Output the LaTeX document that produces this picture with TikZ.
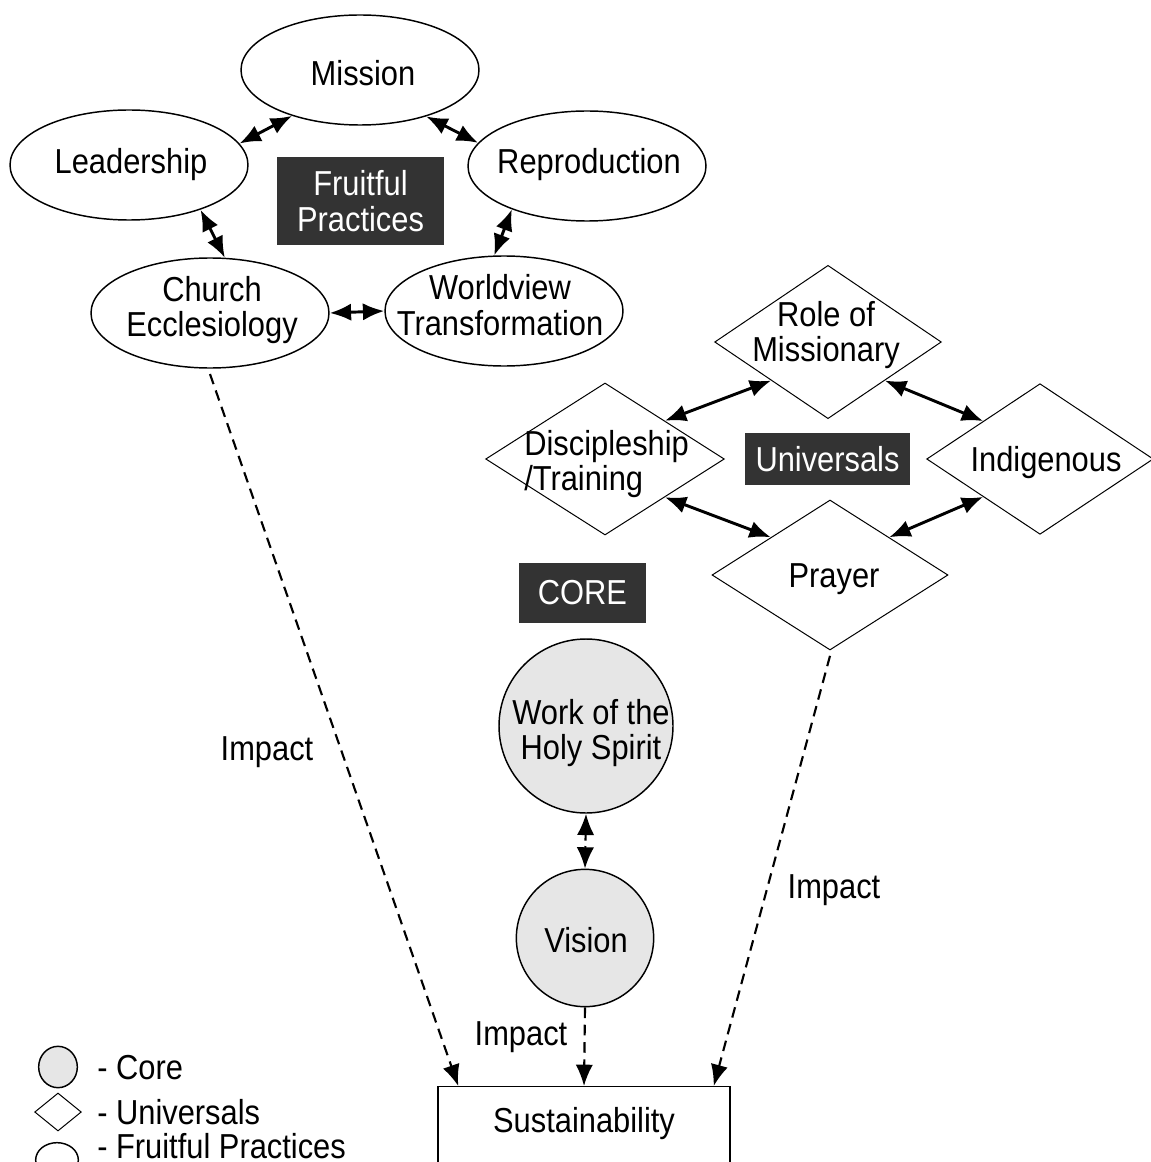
\documentclass[tikz,border=0pt]{standalone}
\usepackage{fontspec}
\setmainfont{Liberation Sans}[FakeStretch=0.89]
\usetikzlibrary{shapes.geometric,arrows.meta,calc}
\definecolor{darkbox}{HTML}{333333}
\definecolor{coregrey}{HTML}{E6E6E6}
\begin{document}
\begin{tikzpicture}[x=0.75pt,y=-0.75pt,
  >={Latex[length=16pt,width=13pt]},
  every node/.style={font=\fontsize{26}{26.5}\selectfont},
  fp/.style={ellipse,draw,line width=1.1pt,minimum width=178.5pt,minimum height=82.5pt,inner sep=0pt},
  uni/.style={diamond,draw,line width=0.75pt,inner sep=0pt},
  core/.style={circle,draw,line width=1.1pt,fill=coregrey,inner sep=0pt},
  tag/.style={fill=darkbox,text=white,align=center,inner sep=0pt},
  lbl/.style={align=center,inner sep=0pt},
  link/.style={<->,line width=2.2pt},
  impact/.style={->,line width=1.6pt,dash pattern=on 8pt off 5pt},
  impact2/.style={<->,line width=1.6pt,dash pattern=on 5pt off 4pt},
]
\useasboundingbox (0,0) rectangle (1151,1162);
\clip (0,0) rectangle (1151,1162);
\fill[white] (0,0) rectangle (1151,1162);

% Fruitful practices
\node[fp] (mission) at (360,70) {};
\node[lbl] (missiont) at (363,73) {Mission};
\node[fp] (lead) at (129,165) {};
\node[lbl] (leadt) at (131,165) {Leadership};
\node[fp] (repro) at (587,166) {};
\node[lbl] (reprot) at (589,165) {Reproduction};
\node[fp] (church) at (210,313) {};
\node[lbl] (churcht) at (212,310) {Church\\Ecclesiology};
\node[fp] (world) at (504,311) {};
\node[lbl] (worldt) at (500,305) {Worldview\\Transformation};
\node[tag,minimum width=125pt,minimum height=66pt] (fpbox) at (360.5,201) {Fruitful\\Practices};

\draw[link] (lead.11) -- (mission.214);
\draw[link] (mission.325) -- (repro.168);
\draw[link] (lead.328) -- (church.75);
\draw[link] (repro.210) -- (world.100);
\draw[link] (church.east) -- (world.west);

% Universals
\node[uni,minimum width=170pt,minimum height=115pt] (role) at (828,342) {};
\node[lbl] (rolet) at (826,335) {Role of\\Missionary};
\node[uni,minimum width=179pt,minimum height=114pt] (disc) at (605,459) {};
\node[lbl,align=left,anchor=west] (disct) at (524,464) {Discipleship\\/Training};
\node[uni,minimum width=170pt,minimum height=113pt] (indig) at (1040,459) {};
\node[lbl] (indigt) at (1046,463) {Indigenous};
\node[uni,minimum width=177pt,minimum height=112.5pt] (prayer) at (830,575) {};
\node[lbl] (prayert) at (834,579) {Prayer};
\node[tag,minimum width=124pt,minimum height=39pt] (unibox) at (827.5,459) {Universals};

\draw[link] (role.south west) -- (disc.north east);
\draw[link] (role.south east) -- (indig.north west);
\draw[link] (disc.south east) -- (prayer.north west);
\draw[link] (indig.south west) -- (prayer.north east);

% Core
\node[tag,minimum width=95pt,minimum height=45pt] (corebox) at (582.5,593) {CORE};
\node[core,minimum size=130.5pt] (whs) at (586,726) {};
\node[lbl] (whst) at (591,733) {Work of the\\Holy Spirit};
\node[core,minimum size=103pt] (vision) at (585,938) {};
\node[lbl] (visiont) at (586,940) {Vision};
\draw[impact2] (whs.south) -- (vision.north);

% Sustainability
\node[draw,line width=1.1pt,minimum width=219pt,minimum height=90pt,anchor=north,inner sep=0pt] (sus) at (584,1086) {};
\node[lbl] (sust) at (584,1124) {Sustainability};

\draw[impact] ([yshift=-4pt]church.south) -- ([xshift=15.75pt]sus.north west);
\draw[impact] ([yshift=-4pt]prayer.south) -- ([xshift=-12.75pt]sus.north east);
\draw[impact] (vision.south) -- (sus.north);

\node[lbl] (imp1) at (267,752) {Impact};
\node[lbl] (imp2) at (834,890) {Impact};
\node[lbl] (imp3) at (521,1037) {Impact};

% Legend
\node[ellipse,draw,line width=1.1pt,fill=coregrey,minimum width=29pt,minimum height=31pt,inner sep=0pt] (lgc) at (58,1067) {};
\node[lbl,anchor=west] (lgct) at (97,1068) {- Core};
\node[uni,minimum width=35pt,minimum height=28.5pt] (lgd) at (58,1112) {};
\node[lbl,anchor=west] (lgdt) at (97,1112) {- Universals};
\node[ellipse,draw,line width=1.1pt,minimum width=32pt,minimum height=26pt,inner sep=0pt] (lge) at (57,1160) {};
\node[lbl,anchor=base west] (lget) at (97,1158) {- Fruitful Practices};
\end{tikzpicture}
\end{document}
